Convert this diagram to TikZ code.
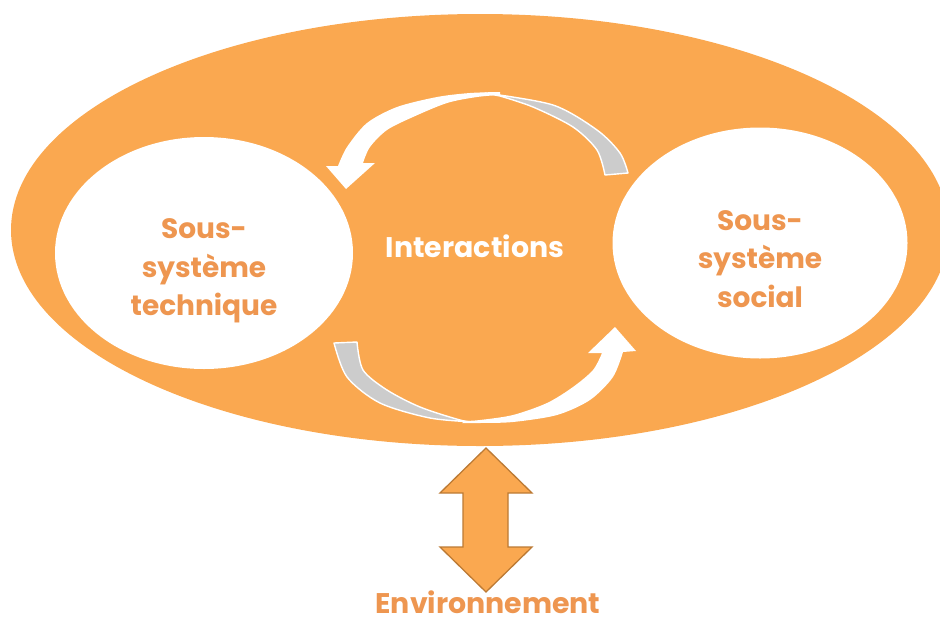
\documentclass[tikz,border=0pt]{standalone}
\usepackage{fontspec}
\setmainfont{Poppins}
\usetikzlibrary{shapes.geometric}
\definecolor{orangefill}{RGB}{250,168,80}
\definecolor{orangetext}{RGB}{238,150,80}
\definecolor{arrowedge}{RGB}{188,122,52}
\definecolor{ribbongray}{RGB}{204,204,204}
\tikzset{
  bigell/.style={ellipse, fill=orangefill, inner sep=0pt, outer sep=0pt},
  subell/.style={ellipse, fill=white, inner sep=0pt, outer sep=0pt},
  subtext/.style={align=center, text=orangetext, font=\fontsize{28}{38.5}\selectfont\bfseries, inner sep=0pt},
  midtext/.style={text=white, font=\fontsize{28.4}{30}\selectfont\bfseries, inner sep=0pt},
  envtext/.style={text=orangetext, font=\fontsize{28.4}{30}\selectfont\bfseries, inner sep=0pt, text depth=0pt},
  ribbonback/.style={fill=ribbongray, draw=white, line width=1.4pt, line join=round},
  ribbonfront/.style={fill=white},
  bigarrow/.style={fill=orangefill, draw=arrowedge, line width=1.3pt, line join=miter}
}
\begin{document}
\begin{tikzpicture}[x=1pt, y=-1pt]
\clip (0,0) rectangle (940,619);
% outer system
\node[bigell, minimum width=938pt, minimum height=432pt] (sys) at (480,230) {};
% subsystems
\node[subell, minimum width=298pt, minimum height=232pt] (tech) at (204,253) {};
\node[subell, minimum width=295pt, minimum height=231pt] (soc) at (760,243) {};
\node[subtext, yshift=-18pt] (techlbl) at (tech.center) {Sous-\\système\\technique};
\node[subtext, yshift=-16pt] (soclbl) at (soc.center) {Sous-\\système\\social};
\node[midtext, anchor=base] (inter) at (475,257) {Interactions};
% top curved arrow (back face, grey)
\path[ribbonback] plot[smooth] coordinates {(485,93) (553,105) (597,130) (620,153) (628,173)}
  -- (605,175) -- plot[smooth] coordinates {(605,175) (597,150) (573,127) (533,107) (500,96)} -- cycle;
% top curved arrow (front face, white, with head)
\path[ribbonfront] plot[smooth] coordinates {(500,92) (470,93) (437,97) (397,107) (367,123) (347,147) (338,166)}
  -- (326,166) -- (346,189) -- (375,163) -- (363,163)
  -- plot[smooth] coordinates {(363,163) (370,147) (387,130) (413,117) (447,103) (477,97) (500,95)} -- cycle;
% bottom curved arrow (back face, grey)
\path[ribbonback] plot[smooth] coordinates {(334,343) (347,377) (380,403) (430,418) (475,422)}
  -- plot[smooth] coordinates {(475,422) (460,420) (420,407) (387,390) (363,370) (357,342)} -- cycle;
% bottom curved arrow (front face, white, with head)
\path[ribbonfront] plot[smooth] coordinates {(462,423) (480,423) (513,422) (557,415) (590,400) (613,377) (623,352)}
  -- (636,351) -- (615,327) -- (588,353) -- (602,353)
  -- plot[smooth] coordinates {(602,353) (593,370) (573,387) (547,403) (513,415) (480,420) (465,421)} -- cycle;
% environment
\node[envtext, anchor=base] (env) at (488,613) {Environnement};
\draw[bigarrow] (486,448) -- (532,493) -- (508,493) -- (508,547) -- (532,547) -- (486,592)
  -- (440,547) -- (463,547) -- (463,493) -- (440,493) -- cycle;
\end{tikzpicture}
\end{document}
